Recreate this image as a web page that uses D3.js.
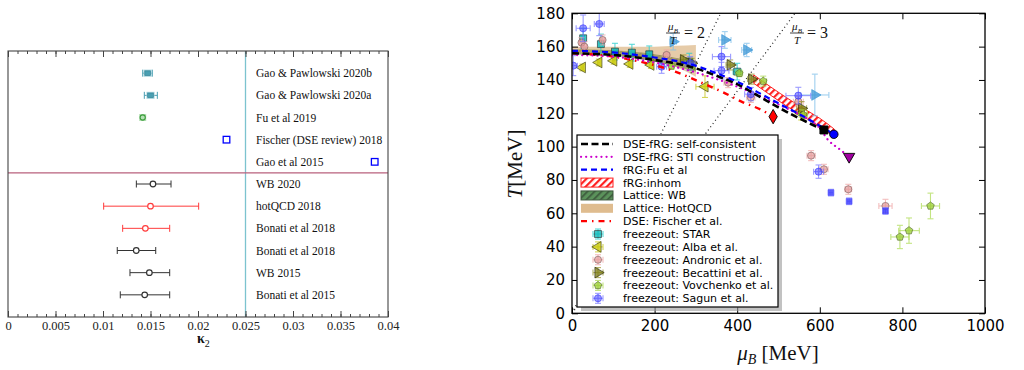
<!DOCTYPE html>
<html>
<head>
<meta charset="utf-8">
<script src="https://cdn.jsdelivr.net/npm/d3@7"></script>
<style>
  body { margin: 0; background: #fff; }
  svg { display: block; }
</style>
</head>
<body>
<svg id="chart" width="1024" height="370"></svg>
<script>
// ---------- left panel data (kappa_2) ----------
const kappaLabels = [
  "Gao & Pawlowski 2020b", "Gao & Pawlowski 2020a", "Fu et al 2019",
  "Fischer (DSE review) 2018", "Gao et al 2015", "WB 2020", "hotQCD 2018",
  "Bonati et al 2018", "Bonati et al 2018", "WB 2015", "Bonati et al 2015"
];
const kappaValues = [0.0147, 0.0150, 0.01418, 0.0230, 0.0386, 0.01526, 0.0150, 0.01446, 0.0135, 0.01488, 0.01439];
const kappaLow = [0.01418, 0.01435, 0.01400, null, null, 0.01351, 0.01007, 0.01207, 0.0115, 0.01284, 0.01182];
const kappaHigh = [0.01519, 0.01572, 0.01436, null, null, 0.01716, 0.02007, 0.01702, 0.01555, 0.01702, 0.01702];
const kappaTicks = [0, 0.005, 0.01, 0.015, 0.02, 0.025, 0.03, 0.035, 0.04];

// ---------- right panel data (phase diagram) ----------
const muTicks = [0, 200, 400, 600, 800, 1000];
const tTicks = [0, 20, 40, 60, 80, 100, 120, 140, 160, 180];

const dseFrgMu = [0, 100, 200, 286, 350, 400, 447, 500, 550, 610];
const dseFrgT = [156, 155, 152, 148, 142.5, 137.5, 131, 123.5, 117, 110];
const stiMu = [0, 100, 200, 300, 400, 467, 528, 568, 600, 620, 645, 671];
const stiT = [155, 154, 150.5, 144.5, 136, 129, 122, 117, 111, 104, 99, 94];
const fuMu = [0, 100, 200, 286, 350, 400, 447, 500, 550, 600, 634];
const fuT = [157.5, 156.5, 153.5, 149.5, 144, 139, 133, 126, 119.5, 112.5, 107.4];
const fischerMu = [0, 100, 165, 250, 317, 366, 414, 459, 487];
const fischerT = [156, 154, 151, 145, 138, 132.6, 126.6, 122, 118];

const inhomMu = [440, 480, 528, 570, 600, 635];
const inhomLow = [138, 131, 123, 116.5, 112, 106];
const inhomHigh = [143, 136, 128, 121.5, 117, 110.5];
const wbMu = [0, 100, 200, 300];
const wbLow = [155.5, 154.5, 151, 145];
const wbHigh = [158.5, 157.8, 155.5, 151];
const hotMu = [0, 100, 200, 250, 300];
const hotLow = [155.5, 155, 151.5, 148, 142];
const hotHigh = [160, 160, 160, 160.5, 161];

const cepMu = [610, 634, 671, 487];
const cepT = [110, 107.4, 94, 118];

const starMu = [27, 70, 104, 145, 187, 284, 400];
const starT = [165, 161.5, 157, 156.4, 155.4, 151, 145];
const starDMu = [3, 4, 4, 5, 5, 8, 10];
const starDT = [6, 6, 5, 5, 5, 5, 5];

const albaMu = [25, 65, 101, 140, 191, 322, 555];
const albaT = [147.5, 150.5, 151.5, 149.6, 149, 136, 120];
const albaDMu = [3, 3, 3, 3, 3, 22, 15];
const albaDT = [2, 2, 2, 2, 2, 6.5, 4];

const andronicMu = [23, 30, 74, 229, 378, 433, 548, 579, 610, 669, 759];
const andronicT = [162.4, 160, 164, 155, 138.4, 129.5, 127, 94.6, 86.4, 74.4, 64.4];
const andronicDMu = [5, 5, 5, 8, 10, 10, 12, 10, 10, 8, 16];
const andronicDT = [3, 3, 3, 3, 3, 3, 3, 3, 3, 3, 4];

const becattiniMu = [270, 290, 383, 435, 556];
const becattiniT = [152, 150, 149, 140.5, 123];
const becattiniDMu = [8, 8, 10, 10, 12];
const becattiniDT = [3, 3, 3, 3, 4];

const becattini2Mu = [245, 370, 423, 588];
const becattini2T = [163, 164, 158, 131];
const becattini2DMu = [8, 15, 12, 34];
const becattini2DT = [5, 5, 4, 12.5];

const vovchenkoMu = [241, 290, 405, 463, 560, 794, 816, 868];
const vovchenkoT = [148.4, 148, 144, 139.3, 119, 45.8, 49.6, 64.4];
const vovchenkoDMu = [5, 5, 8, 8, 10, 22, 25, 22];
const vovchenkoDT = [2, 2, 2, 3, 3, 7, 7.6, 7.7];

const sagunMu = [3, 27, 66, 217, 286, 362, 362, 433, 548, 597];
const sagunT = [148.6, 171, 173.6, 148, 150, 154, 145.6, 131.5, 130.6, 85];
const sagunDMu = [10, 17, 12, 12, 12, 22, 18, 15, 30, 12];
const sagunDT = [6, 8, 7, 4, 4, 6, 5, 4, 5, 4];

const sagunSqMu = [627, 671, 759];
const sagunSqT = [72.4, 67.2, 61.4];
const sagunSqDMu = [5, 5, 5];
const sagunSqDT = [2, 2, 2];

const legendLabels = [
  "DSE-fRG: self-consistent", "DSE-fRG: STI construction", "fRG:Fu et al",
  "fRG:inhom", "Lattice: WB", "Lattice: HotQCD", "DSE: Fischer et al.",
  "freezeout: STAR", "freezeout: Alba et al.", "freezeout: Andronic et al.",
  "freezeout: Becattini et al.", "freezeout: Vovchenko et al.", "freezeout: Sagun et al."
];

// ---------------------------------------------------------------
const SERIF = "'Liberation Serif','Times New Roman',serif";
const SANS = "'DejaVu Sans',sans-serif";
const svg = d3.select("#chart");
const defs = svg.append("defs");

// ================= left panel =================
const kx = d3.scaleLinear().domain([0, 0.04]).range([8, 388]);
const ky = d3.scaleLinear().domain([0, 12]).range([51, 317]);
const L = svg.append("g");

L.append("line")
  .attr("x1", kx(0.025)).attr("x2", kx(0.025))
  .attr("y1", ky(0)).attr("y2", ky(12))
  .attr("stroke", "#7cc3cf").attr("stroke-width", 1.3);
L.append("line")
  .attr("x1", kx(0)).attr("x2", kx(0.04))
  .attr("y1", ky(5.5)).attr("y2", ky(5.5))
  .attr("stroke", "#b8607c").attr("stroke-width", 1.2);

const minorK = d3.range(0, 41).map((i) => i * 0.001);
const fmtK = (d) => (d === 0 ? "0" : d3.format(".3~f")(d));
function styleAxis(g, font, size) {
  g.select(".domain").remove();
  g.selectAll("line").attr("stroke", "#444");
  g.selectAll("text").attr("font-family", font).attr("font-size", size).attr("fill", "#222");
}
L.append("g").attr("transform", `translate(0,${ky(12)})`)
  .call(d3.axisBottom(kx).tickValues(minorK).tickSize(-3).tickFormat(""))
  .call((g) => styleAxis(g, SERIF, 12));
L.append("g").attr("transform", `translate(0,${ky(12)})`)
  .call(d3.axisBottom(kx).tickValues(kappaTicks).tickSize(-6).tickPadding(4).tickFormat(fmtK))
  .call((g) => styleAxis(g, SERIF, 12.5));
L.append("g").attr("transform", `translate(0,${ky(0)})`)
  .call(d3.axisTop(kx).tickValues(minorK).tickSize(-3).tickFormat(""))
  .call((g) => styleAxis(g, SERIF, 12));
L.append("g").attr("transform", `translate(0,${ky(0)})`)
  .call(d3.axisTop(kx).tickValues(kappaTicks).tickSize(-6).tickFormat(""))
  .call((g) => styleAxis(g, SERIF, 12));

L.append("rect")
  .attr("x", kx(0)).attr("y", ky(0))
  .attr("width", kx(0.04) - kx(0)).attr("height", ky(12) - ky(0))
  .attr("fill", "none").attr("stroke", "#444").attr("stroke-width", 1.1);

const rowColor = ["#4a9fb2", "#4a9fb2", "#3c9c3c", "#0000ff", "#0000ff",
  "#333", "#ff3b3b", "#ff3b3b", "#333", "#333", "#333"];
const rowKind = ["sq", "sq", "fu", "open", "open", "c", "c", "c", "c", "c", "c"];

const rows = kappaLabels.map((name, i) => ({
  name, i, v: kappaValues[i], lo: kappaLow[i], hi: kappaHigh[i]
}));

const rowG = L.selectAll("g.row").data(rows).enter().append("g").attr("class", "row");

rowG.append("text")
  .attr("x", 256).attr("y", (d) => ky(d.i + 1) + 4)
  .attr("font-family", SERIF).attr("font-size", 11.5).attr("fill", "#111")
  .text((d) => d.name);

rowG.filter((d) => d.lo !== null).each(function (d) {
  const g = d3.select(this);
  const y = ky(d.i + 1);
  const c = rowColor[d.i];
  g.append("line").attr("x1", kx(d.lo)).attr("x2", kx(d.hi))
    .attr("y1", y).attr("y2", y).attr("stroke", c).attr("stroke-width", 1);
  [d.lo, d.hi].forEach((v) => {
    g.append("line").attr("x1", kx(v)).attr("x2", kx(v))
      .attr("y1", y - 3.5).attr("y2", y + 3.5).attr("stroke", c).attr("stroke-width", 1);
  });
});

rowG.each(function (d) {
  const g = d3.select(this);
  const x = kx(d.v), y = ky(d.i + 1);
  const c = rowColor[d.i];
  const kind = rowKind[d.i];
  if (kind === "sq") {
    g.append("rect").attr("x", x - 4).attr("y", y - 3.5).attr("width", 8).attr("height", 7)
      .attr("fill", "#9fd0da").attr("stroke", "none");
    g.append("rect").attr("x", x - 2.8).attr("y", y - 2.3).attr("width", 5.6).attr("height", 4.6)
      .attr("fill", c).attr("stroke", "#2f7f92").attr("stroke-width", 0.6);
  } else if (kind === "fu") {
    g.append("rect").attr("x", x - 3.5).attr("y", y - 3.5).attr("width", 7).attr("height", 7)
      .attr("fill", "#b5e0b5");
    g.append("circle").attr("cx", x).attr("cy", y).attr("r", 2.6)
      .attr("fill", "none").attr("stroke", c).attr("stroke-width", 1.1);
  } else if (kind === "open") {
    g.append("rect").attr("x", x - 3.3).attr("y", y - 3.3).attr("width", 6.6).attr("height", 6.6)
      .attr("fill", "#fff").attr("stroke", c).attr("stroke-width", 1.3);
  } else {
    g.append("circle").attr("cx", x).attr("cy", y).attr("r", 2.8)
      .attr("fill", "#fff").attr("stroke", c).attr("stroke-width", 1.2);
  }
});

const kLab = L.append("text").attr("x", 197).attr("y", 343)
  .attr("font-family", SERIF).attr("font-size", 14).attr("font-weight", "bold").attr("fill", "#111");
kLab.append("tspan").text("κ");
kLab.append("tspan").attr("dy", 4).attr("font-size", 10).attr("font-weight", "normal").text("2");

// ================= right panel =================
const X = d3.scaleLinear().domain([0, 1000]).range([572, 985]);
const Y = d3.scaleLinear().domain([0, 180]).range([313.3, 13.3]);
const R = svg.append("g");

defs.append("clipPath").attr("id", "plotclip").append("rect")
  .attr("x", X(0)).attr("y", Y(180)).attr("width", X(1000) - X(0)).attr("height", Y(0) - Y(180));

// hatch patterns
const redHatch = defs.append("pattern").attr("id", "redHatch")
  .attr("patternUnits", "userSpaceOnUse").attr("width", 5).attr("height", 5)
  .attr("patternTransform", "rotate(45)");
redHatch.append("rect").attr("width", 5).attr("height", 5).attr("fill", "#fff");
redHatch.append("rect").attr("width", 2.2).attr("height", 5).attr("fill", "#ff2020");

const greenHatch = defs.append("pattern").attr("id", "greenHatch")
  .attr("patternUnits", "userSpaceOnUse").attr("width", 5).attr("height", 5)
  .attr("patternTransform", "rotate(45)");
greenHatch.append("rect").attr("width", 5).attr("height", 5).attr("fill", "#3f7f3f");
greenHatch.append("rect").attr("width", 1.6).attr("height", 5).attr("fill", "#1a3a1a");

const plot = R.append("g").attr("clip-path", "url(#plotclip)");

const area = d3.area().x((d) => X(d.mu)).y0((d) => Y(d.lo)).y1((d) => Y(d.hi))
  .curve(d3.curveMonotoneX);
const band = (mu, lo, hi) => mu.map((m, i) => ({ mu: m, lo: lo[i], hi: hi[i] }));

plot.append("path").datum(band(wbMu, wbLow, wbHigh)).attr("d", area)
  .attr("fill", "url(#greenHatch)").attr("opacity", 0.7);
plot.append("path").datum(band(hotMu, hotLow, hotHigh)).attr("d", area)
  .attr("fill", "#d2a060").attr("opacity", 0.55);
plot.append("path").datum(band(inhomMu, inhomLow, inhomHigh)).attr("d", area)
  .attr("fill", "url(#redHatch)").attr("stroke", "#ff2020").attr("stroke-width", 1);

// mu_B / T = const lines
[2, 3].forEach((r) => {
  plot.append("path").datum([0, 180])
    .attr("d", d3.line().x((t) => X(r * t)).y((t) => Y(t)))
    .attr("stroke", "#222").attr("stroke-width", 1.2)
    .attr("stroke-dasharray", "1,3").attr("fill", "none");
});

// freezeout markers
function pentagon(r) {
  const p = d3.range(5).map((k) => {
    const a = -Math.PI / 2 + (k * 2 * Math.PI) / 5;
    return [r * Math.cos(a), r * Math.sin(a)];
  });
  return "M" + p.join("L") + "Z";
}
const pts = (mu, T, dm, dT) => mu.map((m, i) => ({ mu: m, T: T[i], dm: dm[i], dT: dT[i] }));

const series = [
  { data: pts(starMu, starT, starDMu, starDT), sym: d3.symbolSquare, size: 48, rot: 0,
    fill: "#00b5b5", edge: "#1a3030", err: "#22cccc", op: 0.75 },
  { data: pts(albaMu, albaT, albaDMu, albaDT), sym: d3.symbolTriangle, size: 50, rot: -90,
    fill: "#c8c800", edge: "#3a3a10", err: "#c8c820", op: 0.75 },
  { data: pts(andronicMu, andronicT, andronicDMu, andronicDT), sym: d3.symbolCircle, size: 40, rot: 0,
    fill: "#e39a9a", edge: "#806060", err: "#f0a8a8", op: 0.7 },
  { data: pts(becattiniMu, becattiniT, becattiniDMu, becattiniDT), sym: d3.symbolTriangle, size: 50, rot: 90,
    fill: "#7a7a10", edge: "#2a2a10", err: "#9a9a30", op: 0.75 },
  { data: pts(becattini2Mu, becattini2T, becattini2DMu, becattini2DT), sym: d3.symbolTriangle, size: 50, rot: 90,
    fill: "#3a96d6", edge: "#3a96d6", err: "#80c0ea", op: 0.75 },
  { data: pts(vovchenkoMu, vovchenkoT, vovchenkoDMu, vovchenkoDT), shape: "pent", r: 4, rot: 0,
    fill: "#9acd32", edge: "#556b2f", err: "#b0dc58", op: 0.75 },
  { data: pts(sagunMu, sagunT, sagunDMu, sagunDT), sym: d3.symbolCircle, size: 40, rot: 0,
    fill: "#3a3aff", edge: "#3a3aff", err: "#7a7aff", op: 0.5 },
  { data: pts(sagunSqMu, sagunSqT, sagunSqDMu, sagunSqDT), sym: d3.symbolSquare, size: 34, rot: 0,
    fill: "#2a2aff", edge: "#5a5aff", err: "#8a8aff", op: 0.7 }
];

function drawErr(g, s, x, y, ex, ey) {
  const e = g.append("g").attr("stroke", s.err).attr("stroke-width", 1.1).attr("opacity", 0.75);
  if (ex > 0.5) {
    e.append("line").attr("x1", x - ex).attr("x2", x + ex).attr("y1", y).attr("y2", y);
    e.append("line").attr("x1", x - ex).attr("x2", x - ex).attr("y1", y - 3).attr("y2", y + 3);
    e.append("line").attr("x1", x + ex).attr("x2", x + ex).attr("y1", y - 3).attr("y2", y + 3);
  }
  if (ey > 0.5) {
    e.append("line").attr("x1", x).attr("x2", x).attr("y1", y - ey).attr("y2", y + ey);
    e.append("line").attr("x1", x - 3).attr("x2", x + 3).attr("y1", y - ey).attr("y2", y - ey);
    e.append("line").attr("x1", x - 3).attr("x2", x + 3).attr("y1", y + ey).attr("y2", y + ey);
  }
}
function drawMarker(g, s, x, y) {
  const d = s.shape === "pent" ? pentagon(s.r) : d3.symbol(s.sym, s.size)();
  g.append("path").attr("d", d)
    .attr("transform", `translate(${x},${y}) rotate(${s.rot})`)
    .attr("fill", s.fill).attr("fill-opacity", s.op)
    .attr("stroke", s.edge).attr("stroke-opacity", 0.8).attr("stroke-width", 0.8);
}

series.forEach((s) => {
  const g = plot.append("g");
  s.data.forEach((d) => {
    const x = X(d.mu), y = Y(d.T);
    drawErr(g, s, x, y, X(d.mu + d.dm) - x, y - Y(d.T + d.dT));
  });
  s.data.forEach((d) => drawMarker(g, s, X(d.mu), Y(d.T)));
});

// model curves
const line = d3.line().x((d) => X(d.mu)).y((d) => Y(d.T)).curve(d3.curveMonotoneX);
const curve = (mu, T) => mu.map((m, i) => ({ mu: m, T: T[i] }));

plot.append("path").datum(curve(fischerMu, fischerT)).attr("d", line)
  .attr("fill", "none").attr("stroke", "#ff0000").attr("stroke-width", 2.4)
  .attr("stroke-dasharray", "6,5,1.5,5");
plot.append("path").datum(curve(stiMu, stiT)).attr("d", line)
  .attr("fill", "none").attr("stroke", "#cc00cc").attr("stroke-width", 2.2)
  .attr("stroke-dasharray", "0.1,5").attr("stroke-linecap", "round");
plot.append("path").datum(curve(dseFrgMu, dseFrgT)).attr("d", line)
  .attr("fill", "none").attr("stroke", "#000").attr("stroke-width", 2.6)
  .attr("stroke-dasharray", "7,3.5");
plot.append("path").datum(curve(fuMu, fuT)).attr("d", line)
  .attr("fill", "none").attr("stroke", "#0000ff").attr("stroke-width", 2.2)
  .attr("stroke-dasharray", "6,4");

// end points (CEP)
const cepStyle = [
  { sym: d3.symbolSquare, size: 64, rot: 0, fill: "#000" },
  { sym: d3.symbolCircle, size: 56, rot: 0, fill: "#0000ff" },
  { sym: d3.symbolTriangle, size: 55, rot: 180, fill: "#a000a0" },
  { sym: d3.symbolDiamond, size: 60, rot: 0, fill: "#ff0000" }
];
cepMu.forEach((m, i) => {
  const st = cepStyle[i];
  plot.append("path").attr("d", d3.symbol(st.sym, st.size)())
    .attr("transform", `translate(${X(m)},${Y(cepT[i])}) rotate(${st.rot})`)
    .attr("fill", st.fill).attr("stroke", "#000").attr("stroke-width", 0.9);
});

// ratio labels mu_B/T = 2, 3
[{ x: 673, eq: "= 2", ex: 684 }, { x: 797, eq: "= 3", ex: 807 }].forEach((a) => {
  const t = R.append("text").attr("x", a.x).attr("y", 30).attr("text-anchor", "middle")
    .attr("font-family", SERIF).attr("font-size", 11).attr("fill", "#111");
  t.append("tspan").attr("font-style", "italic").text("μ");
  t.append("tspan").attr("dy", 2.5).attr("font-size", 7).attr("font-style", "italic").text("B");
  R.append("line").attr("x1", a.x - 7).attr("x2", a.x + 7).attr("y1", 33).attr("y2", 33)
    .attr("stroke", "#111").attr("stroke-width", 0.8);
  R.append("text").attr("x", a.x).attr("y", 43.5).attr("text-anchor", "middle")
    .attr("font-family", SERIF).attr("font-size", 11).attr("font-style", "italic")
    .attr("fill", "#111").text("T");
  R.append("text").attr("x", a.ex).attr("y", 38).attr("font-family", SERIF)
    .attr("font-size", 16).attr("fill", "#111").text(a.eq);
});

// axes
R.append("g").attr("transform", `translate(0,${Y(0)})`)
  .call(d3.axisBottom(X).tickValues(muTicks).tickSize(-6).tickPadding(7).tickFormat(d3.format("d")))
  .call((g) => { g.select(".domain").remove(); g.selectAll("line").attr("stroke", "#000");
    g.selectAll("text").attr("font-family", SANS).attr("font-size", 15).attr("fill", "#000"); });
R.append("g").attr("transform", `translate(${X(0)},0)`)
  .call(d3.axisLeft(Y).tickValues(tTicks).tickSize(-6).tickPadding(7).tickFormat(d3.format("d")))
  .call((g) => { g.select(".domain").remove(); g.selectAll("line").attr("stroke", "#000");
    g.selectAll("text").attr("font-family", SANS).attr("font-size", 15).attr("fill", "#000"); });
R.append("g").attr("transform", `translate(0,${Y(180)})`)
  .call(d3.axisTop(X).tickValues(muTicks).tickSize(-6).tickFormat(""))
  .call((g) => { g.select(".domain").remove(); g.selectAll("line").attr("stroke", "#000"); });
R.append("g").attr("transform", `translate(${X(1000)},0)`)
  .call(d3.axisRight(Y).tickValues(tTicks).tickSize(-6).tickFormat(""))
  .call((g) => { g.select(".domain").remove(); g.selectAll("line").attr("stroke", "#000"); });
R.append("rect").attr("x", X(0)).attr("y", Y(180))
  .attr("width", X(1000) - X(0)).attr("height", Y(0) - Y(180))
  .attr("fill", "none").attr("stroke", "#000").attr("stroke-width", 1.3);

// axis titles
const xt = R.append("text").attr("x", 778).attr("y", 360).attr("text-anchor", "middle")
  .attr("font-family", SERIF).attr("font-size", 21).attr("fill", "#111");
xt.append("tspan").attr("font-style", "italic").text("μ");
xt.append("tspan").attr("dy", 4).attr("font-size", 14).attr("font-style", "italic").text("B");
xt.append("tspan").attr("dy", -4).text(" [MeV]");

const yt = R.append("text").attr("transform", "translate(522,164) rotate(-90)")
  .attr("text-anchor", "middle").attr("font-family", SERIF).attr("font-size", 21).attr("fill", "#111");
yt.append("tspan").attr("font-style", "italic").text("T");
yt.append("tspan").text("[MeV]");

// legend
const lg = R.append("g");
const lx = 577, ly = 135, lw = 201, lh = 172;
lg.append("rect").attr("x", lx + 4).attr("y", ly + 4).attr("width", lw).attr("height", lh)
  .attr("fill", "#9a9a9a").attr("opacity", 0.6);
lg.append("rect").attr("x", lx).attr("y", ly).attr("width", lw).attr("height", lh)
  .attr("fill", "#fff").attr("stroke", "#000").attr("stroke-width", 1.2);

const rowY = (i) => 144 + 12.86 * i;
const hx0 = 581, hx1 = 613, hxm = 598;
const lineStyles = [
  { c: "#000", w: 2.6, dash: "7,3.5" },
  { c: "#cc00cc", w: 2.2, dash: "0.1,5", cap: "round" },
  { c: "#0000ff", w: 2.2, dash: "6,4" }
];
lineStyles.forEach((s, i) => {
  lg.append("line").attr("x1", hx0).attr("x2", hx1).attr("y1", rowY(i)).attr("y2", rowY(i))
    .attr("stroke", s.c).attr("stroke-width", s.w).attr("stroke-dasharray", s.dash)
    .attr("stroke-linecap", s.cap || "butt");
});
const patchStyles = [
  { fill: "url(#redHatch)", stroke: "#ff2020", op: 1 },
  { fill: "url(#greenHatch)", stroke: "#1a3a1a", op: 0.85 },
  { fill: "#d2a060", stroke: "none", op: 0.7 }
];
patchStyles.forEach((s, i) => {
  lg.append("rect").attr("x", hx0).attr("y", rowY(3 + i) - 4.5).attr("width", hx1 - hx0).attr("height", 9)
    .attr("fill", s.fill).attr("stroke", s.stroke).attr("opacity", s.op);
});
lg.append("line").attr("x1", hx0).attr("x2", hx1).attr("y1", rowY(6)).attr("y2", rowY(6))
  .attr("stroke", "#ff0000").attr("stroke-width", 2.4).attr("stroke-dasharray", "6,5,1.5,5");

[0, 1, 2, 3, 5, 6].forEach((si, k) => {
  const s = series[si];
  const y = rowY(7 + k);
  drawErr(lg, s, hxm, y, 5, 5);
  drawMarker(lg, s, hxm, y);
});

lg.selectAll("text.leg").data(legendLabels).enter().append("text")
  .attr("class", "leg")
  .attr("x", 623).attr("y", (d, i) => rowY(i) + 4)
  .attr("font-family", SANS).attr("font-size", 11).attr("fill", "#000")
  .text((d) => d);
</script>
</body>
</html>
